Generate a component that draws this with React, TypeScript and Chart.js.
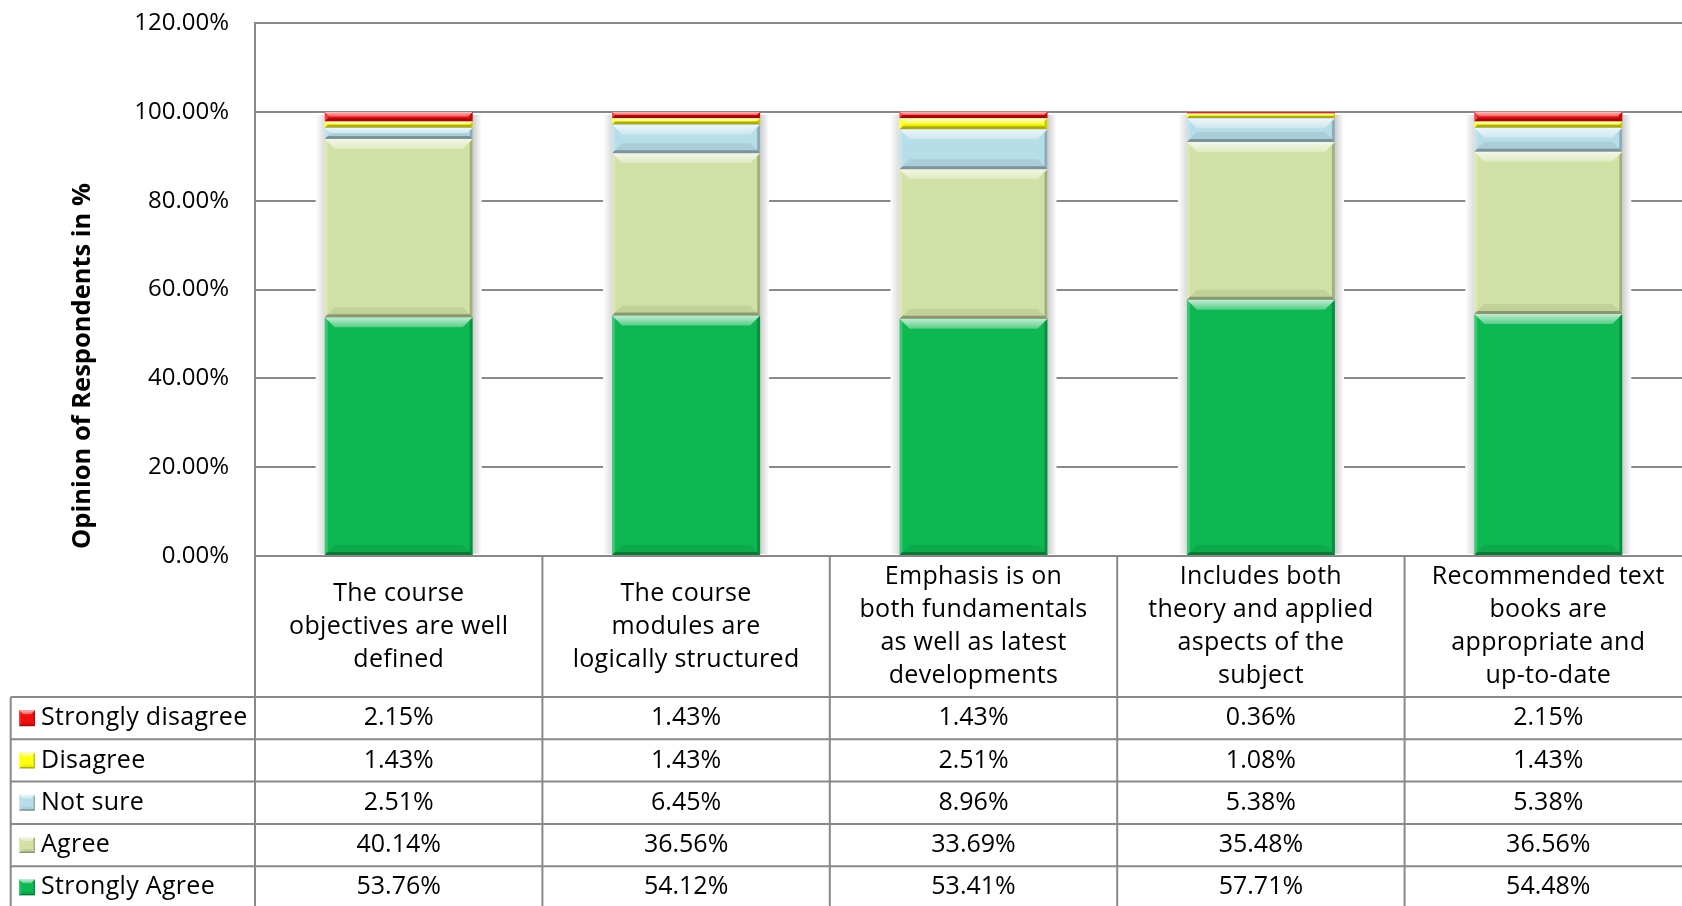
import React, { useEffect, useRef } from "react";
import { Chart, registerables } from "chart.js";

Chart.register(...registerables);

const categories: string[][] = [
  ["The course", "objectives are well", "defined"],
  ["The course", "modules are", "logically structured"],
  ["Emphasis is on", "both fundamentals", "as well as latest", "developments"],
  ["Includes both", "theory and applied", "aspects of the", "subject"],
  ["Recommended text", "books are", "appropriate and", "up-to-date"],
];

const stronglyDisagree = [2.15, 1.43, 1.43, 0.36, 2.15];
const disagree = [1.43, 1.43, 2.51, 1.08, 1.43];
const notSure = [2.51, 6.45, 8.96, 5.38, 5.38];
const agree = [40.14, 36.56, 33.69, 35.48, 36.56];
const stronglyAgree = [53.76, 54.12, 53.41, 57.71, 54.48];

const yTickValues = [0, 20, 40, 60, 80, 100, 120];
const yTitle = "Opinion of Respondents in %";

// table order (top to bottom)
const tableSeries = [
  { name: "Strongly disagree", values: stronglyDisagree, color: "#F01010" },
  { name: "Disagree", values: disagree, color: "#FFFF10" },
  { name: "Not sure", values: notSure, color: "#B7DDE8" },
  { name: "Agree", values: agree, color: "#D1E1A6" },
  { name: "Strongly Agree", values: stronglyAgree, color: "#0DB752" },
];

const FONT = "'Open Sans', 'Noto Sans', sans-serif";
const GRID = "#888888";

function bevel(
  ctx: CanvasRenderingContext2D,
  left: number,
  top: number,
  w: number,
  h: number,
  maxB = 10,
  maxS = 3
) {
  if (h <= 0 || w <= 0) return;
  const b = Math.min(maxB, h / 2, w / 2);
  const s = Math.min(maxS, h / 2, w / 2);
  ctx.save();
  const g = ctx.createLinearGradient(0, top, 0, top + b);
  g.addColorStop(0, "rgba(255,255,255,0.75)");
  g.addColorStop(1, "rgba(255,255,255,0.3)");
  ctx.fillStyle = g;
  ctx.beginPath();
  ctx.moveTo(left, top);
  ctx.lineTo(left + w, top);
  ctx.lineTo(left + w - b, top + b);
  ctx.lineTo(left + b, top + b);
  ctx.closePath();
  ctx.fill();
  ctx.fillStyle = "rgba(0,0,0,0.07)";
  ctx.beginPath();
  ctx.moveTo(left, top + h);
  ctx.lineTo(left + b, top + h - b);
  ctx.lineTo(left + w - b, top + h - b);
  ctx.lineTo(left + w, top + h);
  ctx.closePath();
  ctx.fill();
  ctx.fillStyle = "rgba(255,255,255,0.2)";
  ctx.beginPath();
  ctx.moveTo(left, top);
  ctx.lineTo(left + s, top + s);
  ctx.lineTo(left + s, top + h - s);
  ctx.lineTo(left, top + h);
  ctx.closePath();
  ctx.fill();
  ctx.fillStyle = "rgba(0,0,0,0.22)";
  ctx.beginPath();
  ctx.moveTo(left + w, top);
  ctx.lineTo(left + w - s, top + s);
  ctx.lineTo(left + w - s, top + h - s);
  ctx.lineTo(left + w, top + h);
  ctx.closePath();
  ctx.fill();
  ctx.fillStyle = "rgba(0,0,0,0.28)";
  ctx.beginPath();
  ctx.moveTo(left, top + h);
  ctx.lineTo(left + s, top + h - s);
  ctx.lineTo(left + w - s, top + h - s);
  ctx.lineTo(left + w, top + h);
  ctx.closePath();
  ctx.fill();
  ctx.restore();
}

const decorPlugin = {
  id: "decor",
  beforeDatasetsDraw(chart: any) {
    const ctx: CanvasRenderingContext2D = chart.ctx;
    const n = chart.data.labels.length;
    const metas = chart.data.datasets.map((_: any, i: number) => chart.getDatasetMeta(i));
    for (let j = 0; j < n; j++) {
      let top = Infinity;
      let bottom = -Infinity;
      let x = 0;
      let w = 0;
      metas.forEach((m: any) => {
        const el = m.data[j];
        const p = el.getProps(["x", "y", "base", "width"], true);
        top = Math.min(top, p.y, p.base);
        bottom = Math.max(bottom, p.y, p.base);
        x = p.x;
        w = p.width;
      });
      const left = x - w / 2;
      const pad = 9;
      ctx.save();
      ctx.fillStyle = "#ffffff";
      ctx.fillRect(left - pad, top + 2, w + 2 * pad, bottom - top - 3);
      const gl = ctx.createLinearGradient(left - pad, 0, left, 0);
      gl.addColorStop(0, "rgba(0,0,0,0)");
      gl.addColorStop(1, "rgba(0,0,0,0.14)");
      ctx.fillStyle = gl;
      ctx.fillRect(left - pad, top + 3, pad, bottom - top - 4);
      const gr = ctx.createLinearGradient(left + w + pad, 0, left + w, 0);
      gr.addColorStop(0, "rgba(0,0,0,0)");
      gr.addColorStop(1, "rgba(0,0,0,0.2)");
      ctx.fillStyle = gr;
      ctx.fillRect(left + w, top + 3, pad, bottom - top - 4);
      ctx.restore();
    }
  },
  afterDatasetsDraw(chart: any) {
    const ctx: CanvasRenderingContext2D = chart.ctx;
    chart.data.datasets.forEach((_: any, i: number) => {
      const m = chart.getDatasetMeta(i);
      m.data.forEach((el: any) => {
        const p = el.getProps(["x", "y", "base", "width"], true);
        const top = Math.min(p.y, p.base);
        const h = Math.abs(p.base - p.y);
        bevel(ctx, p.x - p.width / 2, top, p.width, h);
      });
    });
  },
  afterDraw(chart: any) {
    const ctx: any = chart.ctx;
    const area = chart.chartArea;
    const xs = chart.scales.x;
    const n = categories.length;
    const colW = xs.getPixelForValue(1) - xs.getPixelForValue(0);
    const bounds: number[] = [];
    for (let i = 0; i <= n; i++) bounds.push(xs.getPixelForValue(0) - colW / 2 + i * colW);
    const headerH = 141;
    const rowH = 42.3;
    const tableLeft = 10.7;
    const H = chart.height;
    const rowTops: number[] = [];
    for (let r = 0; r < tableSeries.length; r++) rowTops.push(area.bottom + headerH + r * rowH);

    ctx.save();
    ctx.strokeStyle = GRID;
    ctx.lineWidth = 2;
    bounds.forEach((bx) => {
      ctx.beginPath();
      ctx.moveTo(bx, area.bottom);
      ctx.lineTo(bx, H + 2);
      ctx.stroke();
    });
    ctx.beginPath();
    ctx.moveTo(tableLeft, rowTops[0]);
    ctx.lineTo(tableLeft, H + 2);
    ctx.stroke();
    rowTops.forEach((ry) => {
      ctx.beginPath();
      ctx.moveTo(tableLeft, ry);
      ctx.lineTo(bounds[n], ry);
      ctx.stroke();
    });

    ctx.fillStyle = "#000";
    ctx.textAlign = "center";
    ctx.textBaseline = "middle";
    ctx.font = `25px ${FONT}`;
    ctx.letterSpacing = "0.3px";
    const lineH = 33;
    const hc = area.bottom + headerH / 2;
    categories.forEach((lines, i) => {
      const cx = (bounds[i] + bounds[i + 1]) / 2;
      const y0 = hc - ((lines.length - 1) * lineH) / 2;
      lines.forEach((ln, k) => ctx.fillText(ln, cx, y0 + k * lineH));
    });

    tableSeries.forEach((s, r) => {
      const cy = rowTops[r] + rowH / 2;
      const ms = 16;
      ctx.fillStyle = s.color;
      ctx.fillRect(19, cy - ms / 2, ms, ms);
      bevel(ctx, 19, cy - ms / 2, ms, ms, 4, 1.5);
      ctx.fillStyle = "#000";
      ctx.textAlign = "left";
      ctx.letterSpacing = "0.3px";
      ctx.fillText(s.name, 41, cy);
      ctx.textAlign = "center";
      ctx.letterSpacing = "0px";
      s.values.forEach((v, i) => {
        const cx = (bounds[i] + bounds[i + 1]) / 2;
        ctx.fillText(v.toFixed(2) + "%", cx, cy);
      });
    });

    ctx.translate(83, 366);
    ctx.rotate(-Math.PI / 2);
    ctx.font = `bold 25.5px ${FONT}`;
    ctx.letterSpacing = "0px";
    ctx.textAlign = "center";
    ctx.textBaseline = "middle";
    ctx.fillText(yTitle, 0, 0);
    ctx.restore();
  },
};

export default function App() {
  const ref = useRef<HTMLCanvasElement>(null);
  useEffect(() => {
    if (!ref.current) return;
    const stackOrder = [...tableSeries].reverse();
    const chart = new Chart(ref.current, {
      type: "bar",
      data: {
        labels: categories.map((c) => c.join(" ")),
        datasets: stackOrder.map((s) => ({
          label: s.name,
          data: s.values,
          backgroundColor: s.color,
          borderWidth: 0,
          barPercentage: 0.515,
          categoryPercentage: 1,
        })),
      },
      options: {
        responsive: false,
        animation: false,
        devicePixelRatio: 1,
        layout: { padding: { top: 23, right: 8, bottom: 350, left: 0 } },
        plugins: { legend: { display: false }, tooltip: { enabled: false } },
        scales: {
          x: { display: false, stacked: true, grid: { display: false } },
          y: {
            stacked: true,
            min: 0,
            max: 120,
            afterFit: (s: any) => {
              s.width = 255;
            },
            afterBuildTicks: (s: any) => {
              s.ticks = yTickValues.map((v) => ({ value: v }));
            },
            ticks: {
              padding: 0,
              color: "#000",
              font: { family: FONT, size: 24 },
              callback: (v: any) => Number(v).toFixed(2) + "%",
            },
            grid: {
              color: GRID,
              lineWidth: 2,
              drawTicks: true,
              tickLength: 26,
              tickColor: "rgba(0,0,0,0)",
            },
            border: { display: true, color: GRID, width: 2 },
          },
        },
      },
      plugins: [decorPlugin],
    } as any);
    return () => chart.destroy();
  }, []);
  return (
    <div
      style={{
        position: "absolute",
        left: 0,
        top: 0,
        width: 1682,
        height: 906,
        overflow: "hidden",
        background: "#fff",
      }}
    >
      <canvas ref={ref} width={1700} height={906} style={{ display: "block", width: 1700, height: 906 }} />
    </div>
  );
}
